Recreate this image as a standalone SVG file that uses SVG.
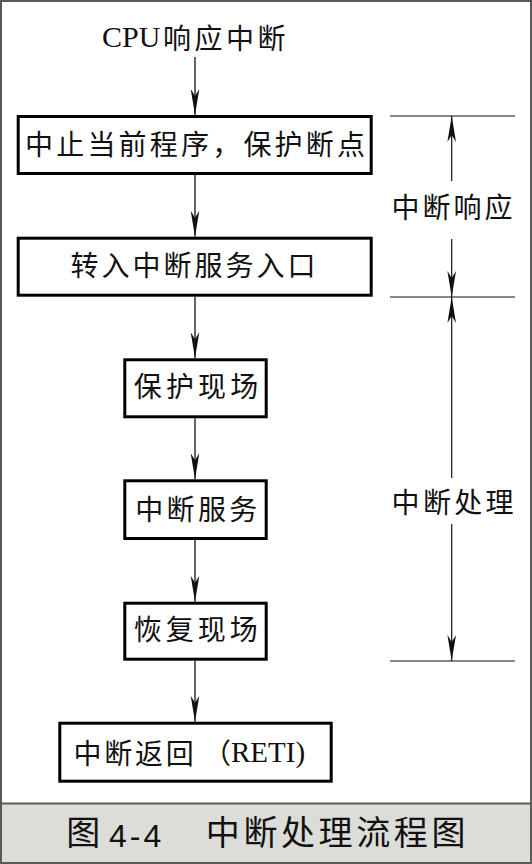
<svg xmlns="http://www.w3.org/2000/svg" width="532" height="864" viewBox="0 0 532 864">
<style>
.box{fill:#fff;stroke:#000;stroke-width:3}
.cn{font-family:"Noto Sans CJK SC","Noto Sans CJK JP",sans-serif;font-size:28px;fill:#111}
.cap{font-family:"Noto Sans CJK SC","Noto Sans CJK JP",sans-serif;font-size:34px;fill:#111}
.ser{font-family:"Liberation Serif","Times New Roman",serif;fill:#111}
.ln{stroke:#111;stroke-width:1.3;fill:none}
.dim{stroke:#111;stroke-width:1.2;fill:none}
</style>
<defs>
<marker id="ah" viewBox="-27 -5 28 10" refX="0" refY="0" markerWidth="28" markerHeight="10" markerUnits="userSpaceOnUse" orient="auto-start-reverse">
<path d="M0,0 L-26,-4.3 L-19,0 L-26,4.3 Z" fill="#111"/>
</marker>
</defs>
<rect x="1" y="1" width="530" height="862" fill="#fff" stroke="#5a5a55" stroke-width="2"/>
<rect x="2" y="803" width="528" height="59" fill="#dcdcd8"/>
<line x1="1" y1="803.5" x2="531" y2="803.5" stroke="#5a5a55" stroke-width="2"/>

<g id="start">
<text class="ser" x="102" y="47" font-size="30">CPU</text>
<text class="cn" x="163" y="49" letter-spacing="3.5">响应中断</text>
</g>

<g id="n1">
<rect class="box" x="18.2" y="116.5" width="353" height="57"/>
<text class="cn" x="25" y="155" letter-spacing="3.2">中止当前程序，保护断点</text>
</g>
<g id="n2">
<rect class="box" x="18.2" y="238.2" width="353" height="57"/>
<text class="cn" x="70.5" y="276" letter-spacing="3">转入中断服务入口</text>
</g>
<g id="n3">
<rect class="box" x="124.8" y="359.8" width="141.4" height="57"/>
<text class="cn" x="133.7" y="397" letter-spacing="4.2">保护现场</text>
</g>
<g id="n4">
<rect class="box" x="124.8" y="480.8" width="141.4" height="57.7"/>
<text class="cn" x="135.3" y="520" letter-spacing="3.3">中断服务</text>
</g>
<g id="n5">
<rect class="box" x="124.8" y="603.2" width="141.4" height="56"/>
<text class="cn" x="133.7" y="640" letter-spacing="4">恢复现场</text>
</g>
<g id="n6">
<rect class="box" x="59.8" y="723.2" width="271.4" height="58"/>
<text class="cn" x="73.6" y="764" letter-spacing="2.7">中断返回<tspan x="203">（</tspan><tspan class="ser" x="231" y="762" font-size="29" letter-spacing="0">RETI)</tspan></text>
</g>

<g id="label-response">
<text class="cn" x="391.6" y="218" letter-spacing="3">中断响应</text>
</g>
<g id="label-process">
<text class="cn" x="391.6" y="513" letter-spacing="3.3">中断处理</text>
</g>

<g id="connectors">
<line class="ln" x1="195" y1="57" x2="195" y2="115" marker-end="url(#ah)"/>
<line class="ln" x1="195" y1="175" x2="195" y2="236.7" marker-end="url(#ah)"/>
<line class="ln" x1="195" y1="296.7" x2="195" y2="358.3" marker-end="url(#ah)"/>
<line class="ln" x1="195" y1="418.3" x2="195" y2="479.3" marker-end="url(#ah)"/>
<line class="ln" x1="195" y1="540" x2="195" y2="601.7" marker-end="url(#ah)"/>
<line class="ln" x1="195" y1="660.7" x2="195" y2="721.7" marker-end="url(#ah)"/>
</g>

<g id="dimensions">
<line class="dim" x1="390" y1="116" x2="515" y2="116"/>
<line class="dim" x1="390" y1="297" x2="515" y2="297"/>
<line class="dim" x1="390" y1="661" x2="515" y2="661"/>
<line class="dim" x1="451.7" y1="116" x2="451.7" y2="181" marker-start="url(#ah)"/>
<line class="dim" x1="451.7" y1="239" x2="451.7" y2="297" marker-end="url(#ah)"/>
<line class="dim" x1="451.7" y1="297" x2="451.7" y2="478" marker-start="url(#ah)"/>
<line class="dim" x1="451.7" y1="524" x2="451.7" y2="661" marker-end="url(#ah)"/>
</g>

<g id="caption">
<text class="cap" x="66.3" y="845">图</text>
<text x="109" y="846.5" font-family="'Liberation Sans',Arial,sans-serif" font-size="32" letter-spacing="3" fill="#111">4-4</text>
<text class="cap" x="205.8" y="845" letter-spacing="3.6">中断处理流程图</text>
</g>
</svg>
